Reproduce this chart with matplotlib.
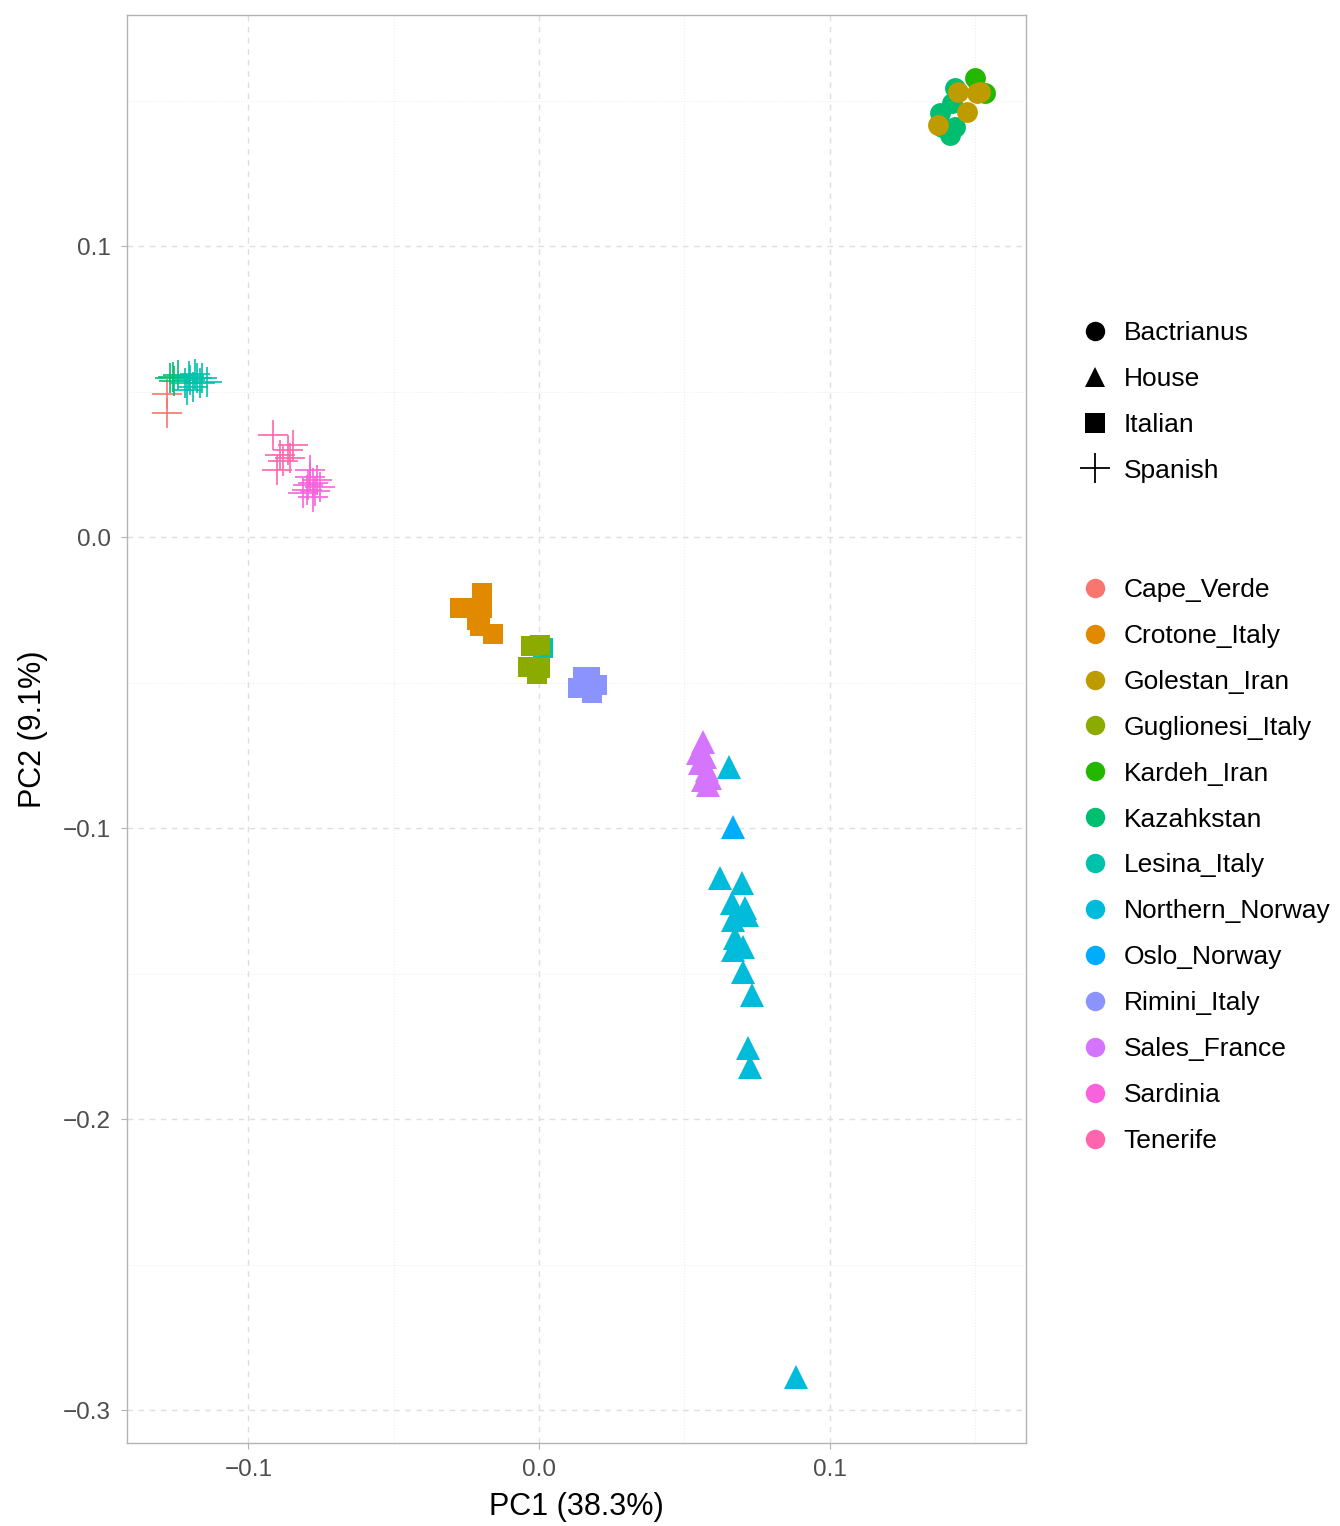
import numpy as np
import matplotlib.pyplot as plt
from matplotlib.lines import Line2D

plt.rcParams['font.family'] = ['Liberation Sans', 'DejaVu Sans']

# populations and their hue colours
populations = ['Cape_Verde', 'Crotone_Italy', 'Golestan_Iran', 'Guglionesi_Italy',
               'Kardeh_Iran', 'Kazahkstan', 'Lesina_Italy', 'Northern_Norway',
               'Oslo_Norway', 'Rimini_Italy', 'Sales_France', 'Sardinia', 'Tenerife']
pop_colors = ['#F8766D', '#E18A00', '#BE9C00', '#8CAB00', '#24B700', '#00BE70',
              '#00C1AB', '#00BBDA', '#00ACFC', '#8B93FF', '#D575FE', '#F962DD', '#FF65AC']
shapes = ['Bactrianus', 'House', 'Italian', 'Spanish']
shape_markers = {'Bactrianus': 'o', 'House': '^', 'Italian': 's', 'Spanish': '+'}

# PCA scores, by population / type
kazahkstan_bac_x = [0.1432, 0.1422, 0.1380, 0.1415, 0.1387, 0.1432]
kazahkstan_bac_y = [0.1543, 0.1491, 0.1457, 0.1381, 0.1409, 0.1409]
kardeh_x = [0.1501, 0.1535]
kardeh_y = [0.1577, 0.1526]
golestan_x = [0.1442, 0.1508, 0.1473, 0.1373, 0.1518]
golestan_y = [0.1529, 0.1526, 0.1460, 0.1416, 0.1529]

cape_verde_x = [-0.1281, -0.1281]
cape_verde_y = [0.0491, 0.0426]
kazahkstan_spa_x = [-0.1270, -0.1260, -0.1243, -0.1255]
kazahkstan_spa_y = [0.0546, 0.0550, 0.0557, 0.0535]
lesina_spa_x = [-0.1201, -0.1191, -0.1177, -0.1212, -0.1167, -0.1143, -0.1219,
                -0.1205, -0.1185, -0.1160]
lesina_spa_y = [0.0540, 0.0515, 0.0546, 0.0505, 0.0529, 0.0533, 0.0529,
                0.0555, 0.0560, 0.0545]
tenerife_x = [-0.0916, -0.0892, -0.0864, -0.0847, -0.0902, -0.0857, -0.0880]
tenerife_y = [0.0351, 0.0282, 0.0299, 0.0316, 0.0230, 0.0271, 0.0262]
sardinia_x = [-0.0788, -0.0778, -0.0799, -0.0754, -0.0812, -0.0778, -0.0788, -0.0764,
              -0.0770, -0.0795]
sardinia_y = [0.0206, 0.0186, 0.0162, 0.0172, 0.0151, 0.0137, 0.0230, 0.0196,
              0.0160, 0.0180]

lesina_ita_x = [0.0014]
lesina_ita_y = [-0.0381]
crotone_x = [-0.0196, -0.0272, -0.0244, -0.0196, -0.0203, -0.0158, -0.0213]
crotone_y = [-0.0192, -0.0244, -0.0244, -0.0244, -0.0306, -0.0333, -0.0285]
guglionesi_x = [-0.0028, 0.0003, -0.0038, 0.0003, -0.0007]
guglionesi_y = [-0.0375, -0.0371, -0.0447, -0.0450, -0.0471]
rimini_x = [0.0176, 0.0151, 0.0200, 0.0134, 0.0182]
rimini_y = [-0.0481, -0.0481, -0.0509, -0.0519, -0.0536]

sales_x = [0.0565, 0.0547, 0.0571, 0.0554, 0.0578, 0.0589, 0.0582, 0.0565]
sales_y = [-0.0704, -0.0742, -0.0756, -0.0777, -0.0801, -0.0828, -0.0852, -0.0835]
oslo_x = [0.0668]
oslo_y = [-0.0997]
northern_x = [0.0654, 0.0623, 0.0699, 0.0664, 0.0709, 0.0716, 0.0668, 0.0675,
              0.0702, 0.0668, 0.0702, 0.0733, 0.0719, 0.0726, 0.0885]
northern_y = [-0.0790, -0.1172, -0.1189, -0.1258, -0.1275, -0.1299, -0.1316, -0.1378,
              -0.1409, -0.1419, -0.1495, -0.1574, -0.1756, -0.1821, -0.2887]

groups = [
    ('Kazahkstan', 'Bactrianus', kazahkstan_bac_x, kazahkstan_bac_y),
    ('Kardeh_Iran', 'Bactrianus', kardeh_x, kardeh_y),
    ('Golestan_Iran', 'Bactrianus', golestan_x, golestan_y),
    ('Cape_Verde', 'Spanish', cape_verde_x, cape_verde_y),
    ('Kazahkstan', 'Spanish', kazahkstan_spa_x, kazahkstan_spa_y),
    ('Lesina_Italy', 'Spanish', lesina_spa_x, lesina_spa_y),
    ('Tenerife', 'Spanish', tenerife_x, tenerife_y),
    ('Sardinia', 'Spanish', sardinia_x, sardinia_y),
    ('Lesina_Italy', 'Italian', lesina_ita_x, lesina_ita_y),
    ('Crotone_Italy', 'Italian', crotone_x, crotone_y),
    ('Guglionesi_Italy', 'Italian', guglionesi_x, guglionesi_y),
    ('Rimini_Italy', 'Italian', rimini_x, rimini_y),
    ('Sales_France', 'House', sales_x, sales_y),
    ('Oslo_Norway', 'House', oslo_x, oslo_y),
    ('Northern_Norway', 'House', northern_x, northern_y),
]

marker_size = {'o': 15, '^': 17, 's': 14, '+': 21}

fig = plt.figure(figsize=(13.4, 15.26), dpi=100)
ax = fig.add_axes([127/1340, 1 - 1443/1526, (1026-127)/1340, (1443-15)/1526])

for pop, shp, xs, ys in groups:
    col = pop_colors[populations.index(pop)]
    m = shape_markers[shp]
    if m == '+':
        ax.plot(xs, ys, linestyle='none', marker=m, markersize=marker_size[m],
                markeredgecolor=col, markeredgewidth=1.2, zorder=3)
    else:
        ax.plot(xs, ys, linestyle='none', marker=m, markersize=marker_size[m],
                color=col, markeredgewidth=0, zorder=3)

ax.set_xlim(-0.1418, 0.1676)
ax.set_ylim(-0.3113, 0.1794)

ax.set_xticks([-0.1, 0.0, 0.1])
ax.set_xticklabels(['\u22120.1', '0.0', '0.1'])
ax.set_yticks([0.1, 0.0, -0.1, -0.2, -0.3])
ax.set_yticklabels(['0.1', '0.0', '\u22120.1', '\u22120.2', '\u22120.3'])
ax.set_xticks([-0.05, 0.05, 0.15], minor=True)
ax.set_yticks([0.15, 0.05, -0.05, -0.15, -0.25], minor=True)

ax.grid(True, which='major', color='#DEDEDE', linestyle=(0, (4, 4)), linewidth=1.0, zorder=0)
ax.grid(True, which='minor', color='#EBEBEB', linestyle=(0, (1, 2)), linewidth=0.7, zorder=0)
ax.set_axisbelow(True)
ax.tick_params(which='major', length=4, width=0.8, color='#B3B3B3',
               labelsize=17.5, labelcolor='#4D4D4D', pad=7.5)
ax.tick_params(which='minor', length=0)
for sp in ax.spines.values():
    sp.set_color('#B3B3B3')
    sp.set_linewidth(1.0)

ax.set_xlabel('PC1 (38.3%)', fontsize=22, labelpad=8)
ax.set_ylabel('PC2 (9.1%)', fontsize=22, labelpad=11)

# shape legend
shape_handles = [Line2D([], [], linestyle='none', marker=shape_markers[s], color='black',
                        markersize=(14 if s != 'Spanish' else 21),
                        markeredgewidth=(0 if s != 'Spanish' else 1.3))
                 for s in shapes]
leg1 = fig.legend(shape_handles, shapes, loc='upper left', bbox_to_anchor=(1079/1340, 1 - 321/1526),
                  frameon=False, fontsize=19, labelspacing=0.83, handletextpad=0.5,
                  handlelength=1.2, borderaxespad=0, borderpad=0)

# colour legend
pop_handles = [Line2D([], [], linestyle='none', marker='o', color=c, markersize=14,
                      markeredgewidth=0) for c in pop_colors]
leg2 = fig.legend(pop_handles, populations, loc='upper left', bbox_to_anchor=(1079/1340, 1 - 578/1526),
                  frameon=False, fontsize=19, labelspacing=0.83, handletextpad=0.5,
                  handlelength=1.2, borderaxespad=0, borderpad=0)

fig.savefig('out.png', dpi=100)
